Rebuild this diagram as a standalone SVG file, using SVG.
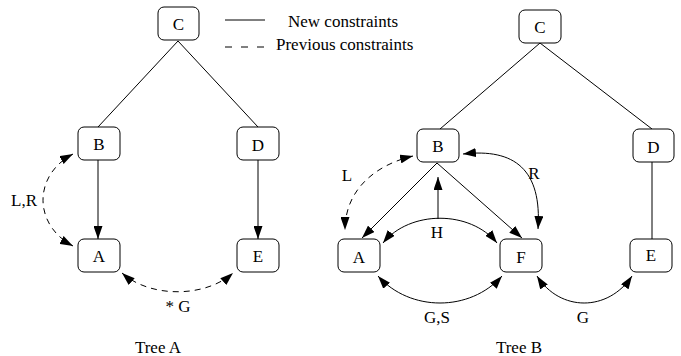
<svg xmlns="http://www.w3.org/2000/svg" width="681" height="356" viewBox="0 0 681 356">
<defs>
<style>
.node rect{fill:#fff;stroke:#000;stroke-width:1}
text{font-family:"Liberation Serif","Times New Roman",serif;font-size:17px;fill:#000}
.lbl{text-anchor:middle}
.edge{fill:none;stroke:#000;stroke-width:1}
.dash{stroke-dasharray:6 5}
.arr{marker-end:url(#ah)}
.arr2{marker-start:url(#ah);marker-end:url(#ah)}
</style>
<marker id="ah" markerUnits="userSpaceOnUse" viewBox="0 0 13 9" markerWidth="13" markerHeight="9" refX="13" refY="4.5" orient="auto-start-reverse">
<path d="M0,0 L13,4.5 L0,9 z" fill="#000"/>
</marker>
</defs>
<rect width="681" height="356" fill="#fff"/>

<g id="legend">
<line class="edge" x1="225" y1="20" x2="265" y2="20" stroke-width="1.4"/>
<line class="edge" x1="225" y1="47" x2="265" y2="47" stroke-width="1.4" stroke-dasharray="7 9"/>
<text x="288" y="27">New constraints</text>
<text x="276" y="50">Previous constraints</text>
</g>

<g id="connectors">
<line class="edge" x1="178" y1="41" x2="98" y2="127"/>
<line class="edge" x1="178" y1="41" x2="258" y2="127"/>
<line class="edge arr" x1="98" y1="160" x2="98" y2="239"/>
<line class="edge arr" x1="258" y1="160" x2="258" y2="239"/>
<path class="edge dash arr2" d="M73,154 C33,175 33,225 73,246"/>
<path class="edge dash arr2" d="M122,273 C150,298 205,298 233,273"/>
<line class="edge" x1="540" y1="43" x2="440" y2="129"/>
<line class="edge" x1="540" y1="43" x2="652" y2="129"/>
<line class="edge arr" x1="437" y1="163" x2="362" y2="238"/>
<line class="edge arr" x1="437" y1="163" x2="522" y2="238"/>
<line class="edge arr" x1="438" y1="219" x2="438" y2="177"/>
<path class="edge arr2" d="M383,243 C410,210 470,210 497,243"/>
<path class="edge dash arr2" d="M413,156 C375,165 345,190 345,230"/>
<path class="edge arr2" d="M463,154 C515,148 542,170 538,229"/>
<path class="edge arr2" d="M378,276 C410,312 470,312 502,276"/>
<path class="edge arr2" d="M537,276 C560,312 608,312 632,276"/>
<line class="edge" x1="652" y1="162" x2="652" y2="239"/>
</g>

<g id="labels">
<text class="lbl" x="24" y="206">L,R</text>
<text class="lbl" x="178" y="312">* G</text>
<text class="lbl" x="158" y="353">Tree A</text>
<text class="lbl" x="347" y="181">L</text>
<text class="lbl" x="534" y="179">R</text>
<text class="lbl" x="437" y="238">H</text>
<text class="lbl" x="437" y="323">G,S</text>
<text class="lbl" x="583" y="323">G</text>
<text class="lbl" x="519" y="353">Tree B</text>
</g>

<g id="treeA-C" class="node"><rect x="158" y="7" width="41" height="33" rx="6"/><text class="lbl" x="178.5" y="30">C</text></g>
<g id="treeA-B" class="node"><rect x="78" y="127" width="42" height="33" rx="6"/><text class="lbl" x="99" y="150">B</text></g>
<g id="treeA-D" class="node"><rect x="237" y="127" width="42" height="33" rx="6"/><text class="lbl" x="258" y="151">D</text></g>
<g id="treeA-A" class="node"><rect x="78" y="239" width="42" height="33" rx="6"/><text class="lbl" x="99" y="262">A</text></g>
<g id="treeA-E" class="node"><rect x="237" y="239" width="42" height="33" rx="6"/><text class="lbl" x="258" y="262">E</text></g>

<g id="treeB-C" class="node"><rect x="519" y="10" width="42" height="33" rx="6"/><text class="lbl" x="540" y="33">C</text></g>
<g id="treeB-B" class="node"><rect x="417" y="129" width="42" height="33" rx="6"/><text class="lbl" x="438" y="152">B</text></g>
<g id="treeB-D" class="node"><rect x="633" y="129" width="41" height="33" rx="6"/><text class="lbl" x="653.5" y="153">D</text></g>
<g id="treeB-A" class="node"><rect x="338" y="239" width="42" height="33" rx="6"/><text class="lbl" x="359" y="263">A</text></g>
<g id="treeB-F" class="node"><rect x="500" y="239" width="42" height="33" rx="6"/><text class="lbl" x="521" y="263">F</text></g>
<g id="treeB-E" class="node"><rect x="630" y="239" width="42" height="33" rx="6"/><text class="lbl" x="651" y="261">E</text></g>
</svg>
